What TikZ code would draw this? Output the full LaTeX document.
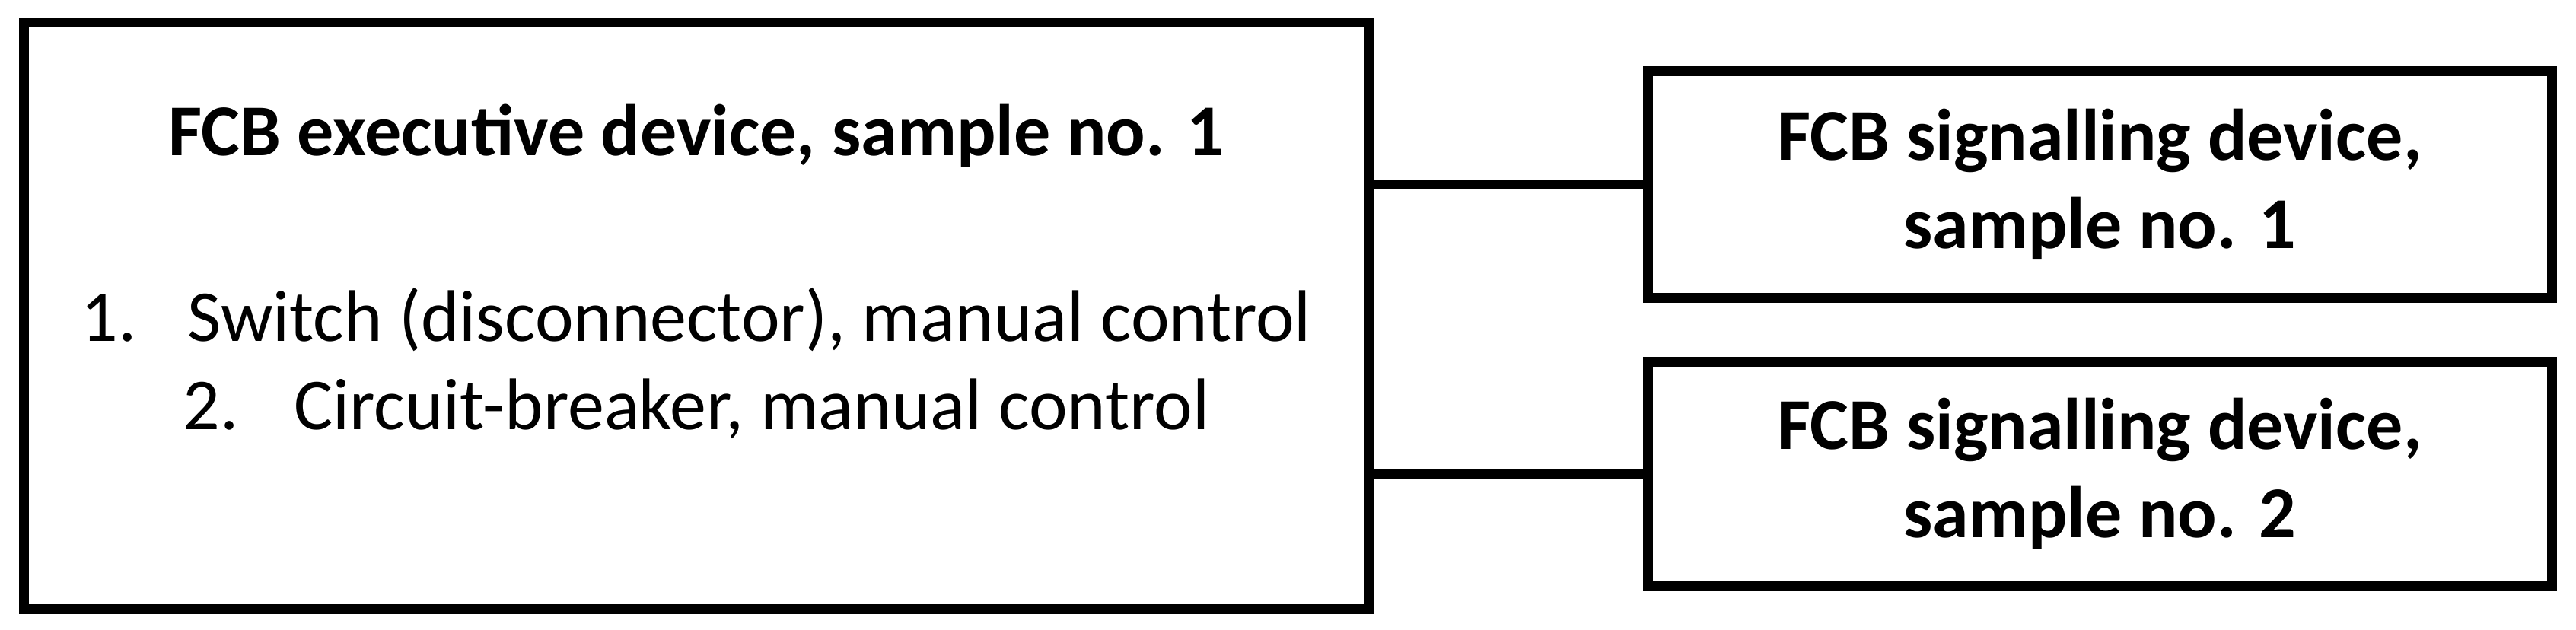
\documentclass[tikz,border=0pt]{standalone}
\usepackage{fontspec}
\setmainfont{Carlito}
\usetikzlibrary{positioning}

\begin{document}
\begin{tikzpicture}[on grid,
  devbox/.style={draw,line width=3.25pt,align=center,inner sep=0pt,font=\fontsize{24}{29}\selectfont},
  sigbox/.style={devbox,font=\fontsize{24}{29}\selectfont\bfseries,minimum width=297pt},
  link/.style={line width=3.25pt}]
\useasboundingbox (0,0) rectangle (846.25pt,-206.75pt);

\node[devbox,minimum width=441.9pt,minimum height=192.6pt]	(exec)	at (228.75pt,-103.75pt)
	{\textbf{FCB executive device, sample no. 1}\\[32pt]
	\makebox[35pt][l]{1.}Switch (disconnector), manual control\\
	\makebox[36.5pt][l]{2.}Circuit-breaker, manual control\\[3pt]
	\mbox{}};
\node[sigbox,minimum height=74.5pt]		(sig_1)	[above right=43.1pt and 461pt of exec]	{FCB signalling device,\\sample no. 1};
\node[sigbox,minimum height=73.75pt]	(sig_2)	[below=95pt of sig_1]					{FCB signalling device,\\sample no. 2};

\path[link]
(exec.east |- sig_1.west)	edge	(sig_1.west)
(exec.east |- sig_2.west)	edge	(sig_2.west)
;
\end{tikzpicture}
\end{document}
